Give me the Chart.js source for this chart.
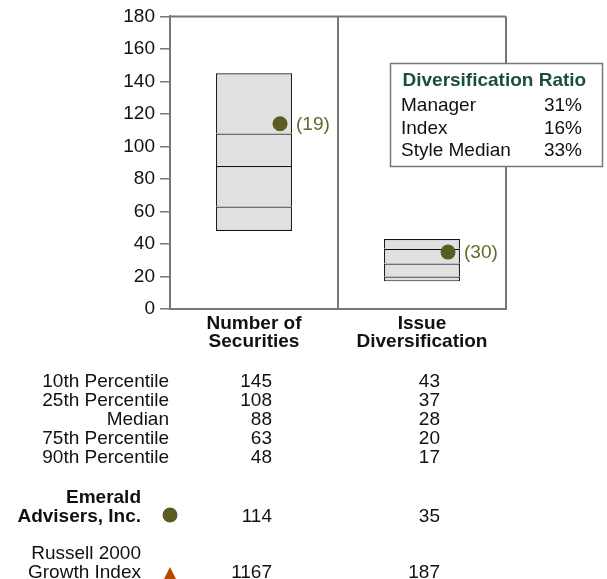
<!DOCTYPE html>
<html>
<head>
<meta charset="utf-8">
<script src="https://cdn.jsdelivr.net/npm/chart.js@4"></script>
<style>
  body { margin: 0; background: #fff; }
</style>
</head>
<body>
<canvas id="grafico" width="607" height="579"></canvas>
<script>
var categorias = [["Number of", "Securities"], ["Issue", "Diversification"]];
var pct10 = [145, 43];
var pct25 = [108, 37];
var mediana = [88, 28];
var pct75 = [63, 20];
var pct90 = [48, 17];
var gestor = [114, 35];
var gestorRank = [19, 30];
var indice = [1167, 187];

var linhasTabela = ["10th Percentile", "25th Percentile", "Median", "75th Percentile", "90th Percentile"];
var ratioNomes = ["Manager", "Index", "Style Median"];
var ratioValores = [31, 16, 33];

var FONTE = "'Liberation Sans', Arial, sans-serif";
var COR_GESTOR = '#5b5b24';
var DESLOCA_PONTO = 0.155; // dot sits a bit right of the category centre

function faixa(baixo, alto) {
    return baixo.map(function (v, i) { return [v, alto[i]]; });
}

// one slice of the box; upper slices skip their bottom edge so the
// dividing lines are drawn only once
function caixa(dados, semBase) {
    return {
        data: dados,
        grouped: false,
        backgroundColor: '#e0e0e0',
        borderColor: '#111',
        borderWidth: 1.2,
        borderSkipped: semBase ? 'bottom' : false,
        barPercentage: 0.452,
        categoryPercentage: 1
    };
}

var extras = {
    id: 'extras',
    afterDraw: function (chart) {
        var ctx = chart.ctx;
        var area = chart.chartArea;
        var x = chart.scales.x;
        ctx.save();

        // top edge of the frame
        ctx.strokeStyle = '#777';
        ctx.lineWidth = 2;
        ctx.beginPath();
        ctx.moveTo(area.left, area.top);
        ctx.lineTo(area.right, area.top);
        ctx.stroke();

        // rank next to each manager dot
        var pts = chart.getDatasetMeta(0).data;
        ctx.fillStyle = '#66662e';
        ctx.font = '19px ' + FONTE;
        ctx.textAlign = 'left';
        ctx.textBaseline = 'middle';
        for (var i = 0; i < pts.length; i++) {
            ctx.fillText('(' + gestorRank[i] + ')', pts[i].x + 16, pts[i].y + 1);
        }

        // ratio box
        ctx.fillStyle = '#fff';
        ctx.fillRect(390.5, 63.5, 212, 103);
        ctx.lineWidth = 1.5;
        ctx.strokeRect(390.5, 63.5, 212, 103);
        ctx.textBaseline = 'alphabetic';
        ctx.fillStyle = '#1d4d3b';
        ctx.font = 'bold 19px ' + FONTE;
        ctx.fillText('Diversification Ratio', 402.5, 86);
        ctx.fillStyle = '#111';
        ctx.font = '19px ' + FONTE;
        for (var r = 0; r < ratioNomes.length; r++) {
            var yb = 111 + r * 22.5;
            ctx.textAlign = 'left';
            ctx.fillText(ratioNomes[r], 401, yb);
            ctx.textAlign = 'right';
            ctx.fillText(ratioValores[r] + '%', 582, yb);
        }

        // percentile table
        var colunas = [pct10, pct25, mediana, pct75, pct90];
        var col1 = x.getPixelForValue(0) + 18;
        var col2 = x.getPixelForValue(1) + 18;
        ctx.textAlign = 'right';
        for (var k = 0; k < linhasTabela.length; k++) {
            var yl = 387 + k * 19;
            ctx.fillText(linhasTabela[k], 169, yl);
            ctx.fillText(String(colunas[k][0]), col1, yl);
            ctx.fillText(String(colunas[k][1]), col2, yl);
        }

        // manager row
        ctx.font = 'bold 19px ' + FONTE;
        ctx.fillText('Emerald', 141, 503);
        ctx.fillText('Advisers, Inc.', 141, 522);
        ctx.fillStyle = COR_GESTOR;
        ctx.beginPath();
        ctx.arc(170, 515, 7.5, 0, Math.PI * 2);
        ctx.fill();
        ctx.fillStyle = '#111';
        ctx.font = '19px ' + FONTE;
        ctx.fillText(String(gestor[0]), col1, 522);
        ctx.fillText(String(gestor[1]), col2, 522);

        // index row
        ctx.fillText('Russell 2000', 141, 559);
        ctx.fillText('Growth Index', 141, 578);
        ctx.fillText(String(indice[0]), col1, 578);
        ctx.fillText(String(indice[1]), col2, 578);
        ctx.fillStyle = '#b34a00';
        ctx.beginPath();
        ctx.moveTo(170, 567);
        ctx.lineTo(176.5, 580);
        ctx.lineTo(163.5, 580);
        ctx.closePath();
        ctx.fill();

        ctx.restore();
    }
};

var grafico = new Chart(document.getElementById('grafico'), {
    type: 'bar',
    data: {
        labels: categorias,
        datasets: [
            {
                type: 'scatter',
                xAxisID: 'xm',
                data: gestor.map(function (v, i) { return { x: i + 0.5 + DESLOCA_PONTO, y: v }; }),
                pointRadius: 7.5,
                pointBackgroundColor: COR_GESTOR,
                pointBorderWidth: 0
            },
            caixa(faixa(pct90, pct75), false),
            caixa(faixa(pct75, mediana), true),
            caixa(faixa(mediana, pct25), true),
            caixa(faixa(pct25, pct10), true)
        ]
    },
    options: {
        responsive: false,
        animation: false,
        layout: { padding: { top: 16, right: 101, bottom: 220, left: 0 } },
        plugins: {
            legend: { display: false },
            tooltip: { enabled: false }
        },
        scales: {
            x: {
                afterFit: function (s) { s.height = 50; },
                border: { color: '#777', width: 2 },
                grid: { color: '#777', lineWidth: 2, drawTicks: false },
                ticks: {
                    color: '#111',
                    padding: 6,
                    font: { family: FONTE, size: 19, weight: 'bold', lineHeight: '18px' }
                }
            },
            xm: {
                type: 'linear',
                display: false,
                offset: false,
                min: 0,
                max: 2
            },
            y: {
                min: 0,
                max: 180,
                afterFit: function (s) { s.width = 170; },
                border: { color: '#777', width: 2 },
                grid: { drawOnChartArea: false, color: '#777', lineWidth: 1.5, tickLength: 10 },
                ticks: {
                    stepSize: 20,
                    color: '#111',
                    padding: 5,
                    font: { family: FONTE, size: 19 }
                }
            }
        }
    },
    plugins: [extras]
});
</script>
</body>
</html>
